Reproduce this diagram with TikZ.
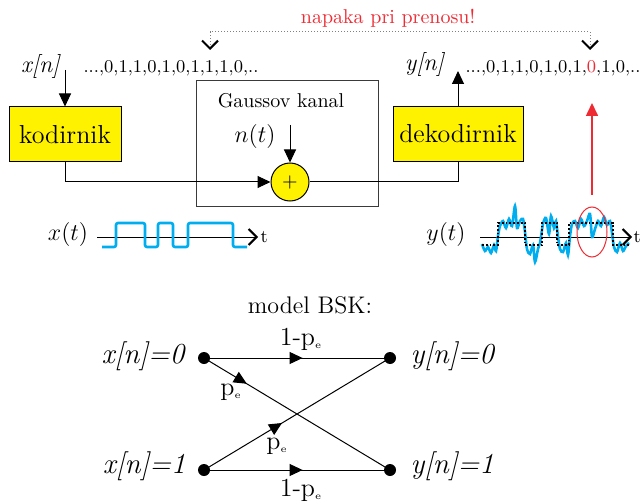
\documentclass[tikz,border=0pt]{standalone}
\usetikzlibrary{arrows.meta,shapes.geometric,decorations.markings}
\definecolor{blkyellow}{HTML}{FFF200}
\definecolor{sigblue}{HTML}{00AEEF}
\definecolor{errred}{HTML}{EE2A33}
\definecolor{boxgray}{HTML}{3A3A3A}

\begin{document}
\begin{tikzpicture}[
  x=0.5pt, y=-0.5pt, line width=0.5pt,
  blk/.style    = {draw, fill=blkyellow, minimum height=27.5pt, inner sep=0pt, font=\fontsize{13}{15}\selectfont},
  chan/.style   = {draw=boxgray, minimum width=91pt, minimum height=62.5pt, inner sep=0pt},
  summ/.style   = {draw, circle, fill=blkyellow, minimum size=19pt, inner sep=0pt},
  lbl/.style    = {font=\large, inner sep=1pt},
  seq/.style    = {font=\small, inner sep=1pt},
  dot/.style    = {circle, fill, minimum size=6pt, inner sep=0pt},
  bsk/.style    = {font=\fontsize{14.5}{17}\selectfont, inner sep=1pt},
  prob/.style   = {font=\fontsize{13}{15}\selectfont, inner sep=1pt},
  arr/.style    = {-{Triangle[length=6.5pt,width=6pt]}},
  errarr/.style = {draw=gray, densely dotted,
                   {Straight Barb[length=4pt,width=8pt,line width=1pt,color=black]}-{Straight Barb[length=4pt,width=8pt,line width=1pt,color=black]}},
  redarr/.style = {draw=errred, line width=0.8pt, -{Triangle[length=6.5pt,width=6pt]}},
  axis/.style   = {-{Straight Barb[length=4pt,width=8pt,line width=1pt]}},
  wave/.style   = {draw=sigblue, line width=1.3pt},
  mid/.style    = {postaction={decorate}, decoration={markings,
                   mark=at position #1 with {\arrow{Triangle[length=6.5pt,width=6pt]}}}},
]
\useasboundingbox (0,0) rectangle (641,502);

% transmitter
\node[lbl] (xn) at (41,67) {\textit{x[n]}};
\node[seq] (xseq) at (171,68) {...,0,1,1,0,1,0,1,1,1,0,..};
\node[blk, minimum width=56pt] (kod) at (65,134.5) {kodirnik};
\coordinate (xin) at (65,70);
\draw[arr] (xin) -- (kod.north);

% channel
\node[chan] (kanal) at (287,143.5) {};
\node (gk) at (281,101) {Gaussov kanal};
\node[summ] (add) at (290,182) {$+$};
\node[lbl] (nt) at (255,137) {$n(t)$};
\coordinate (nin) at (290,125);
\draw[arr] (nin) -- (add.north);
\draw[arr] (kod.south) |- (add.west);

% receiver
\node[blk, minimum width=65pt] (dek) at (458,134) {dekodirnik};
\node[lbl] (yn) at (425,65) {\textit{y[n]}};
\node[seq] (yseq) at (553,68) {...,0,1,1,0,1,0,1,\textcolor{errred}{0},1,0,..};
\coordinate (yout) at (458,71);
\draw (add.east) -| (dek.south);
\draw[arr] (dek.north) -- (yout);

% error marker
\node[text=errred] (err) at (388,18) {napaka pri prenosu!};
\coordinate (bit1) at (210,50);
\coordinate (bit2) at (590,50);
\coordinate (errtop) at (400,32);
\draw[errarr] (bit1) |- (errtop) -| (bit2);

% signals
\node[lbl] (xt) at (68,234) {$x(t)$};
\coordinate (xax0) at (97,237);
\coordinate (xax1) at (258,237);
\draw[axis] (xax0) -- (xax1);
\node[font=\small, anchor=west, inner sep=1pt] (tx) at (xax1) {t};
\draw[wave, rounded corners=1pt] (102,247) -- (116,247) -- (116,223) -- (145,223) -- (145,247)
  -- (158,247) -- (158,223) -- (173,223) -- (173,247) -- (188,247) -- (188,223)
  -- (233,223) -- (233,247) -- (247,247);

\node[lbl] (yt) at (446,234) {$y(t)$};
\coordinate (yax0) at (480,237);
\coordinate (yax1) at (632,237);
\draw[axis] (yax0) -- (yax1);
\node[font=\small, anchor=west, inner sep=0.5pt] (ty) at (yax1) {t};
\draw[wave] plot[smooth, tension=0.5] coordinates {
  (482,244) (485,251) (488,247) (491,253) (494,245) (496,251) (498,236) (500,226)
  (503,221) (506,228) (509,219) (512,226) (515,206) (517,228) (520,221) (523,219)
  (525,232) (527,249) (530,254) (533,245) (535,262) (538,249) (540,243) (543,224)
  (546,218) (549,234) (551,216) (554,228) (556,221) (558,237) (560,249) (563,252)
  (566,243) (568,255) (570,236) (572,224) (575,221) (578,228) (581,219) (584,226)
  (587,221) (590,214) (592,237) (595,229) (598,221) (601,226) (604,217) (607,225)
  (610,221) (612,233) (614,247) (617,252) (620,243) (623,251) (626,246) (629,243)};
\draw[densely dotted, line width=0.9pt] (482,245) -- (498,245) -- (498,223) -- (525,223)
  -- (525,245) -- (542,245) -- (542,223) -- (557,223) -- (557,245) -- (569,245)
  -- (569,223) -- (613,223) -- (613,245) -- (630,245);
\node[ellipse, draw=errred, minimum width=15pt, minimum height=25pt, inner sep=0pt] (errell) at (592,232) {};
\coordinate (redtip) at (592,103);
\draw[redarr] ([yshift=6pt]errell.north) -- (redtip);

% BSK model
\node[font=\large] (bsktitle) at (310,305) {model BSK:};
\node[dot] (x0) at (204,358) {};
\node[dot] (y0) at (390,358) {};
\node[dot] (x1) at (204,470) {};
\node[dot] (y1) at (390,470) {};
\node[bsk, anchor=east] (lx0) at (188,356) {\textit{x[n]=0}};
\node[bsk, anchor=west] (ly0) at (408,356) {\textit{y[n]=0}};
\node[bsk, anchor=east] (lx1) at (188,466) {\textit{x[n]=1}};
\node[bsk, anchor=west] (ly1) at (408,466) {\textit{y[n]=1}};

\draw[mid=0.53] (x0.center) -- (y0.center);
\draw[mid=0.53] (x1.center) -- (y1.center);
\draw[mid=0.23] (x0.center) -- (y1.center);
\draw[mid=0.42] (x1.center) -- (y0.center);

\node[prob] (p00) at (301,339) {1-p\textsubscript{\tiny e}};
\node[prob] (p11) at (301,490) {1-p\textsubscript{\tiny e}};
\node[prob] (p01) at (231,392) {p\textsubscript{\tiny e}};
\node[prob] (p10) at (277,446) {p\textsubscript{\tiny e}};

\end{tikzpicture}
\end{document}
